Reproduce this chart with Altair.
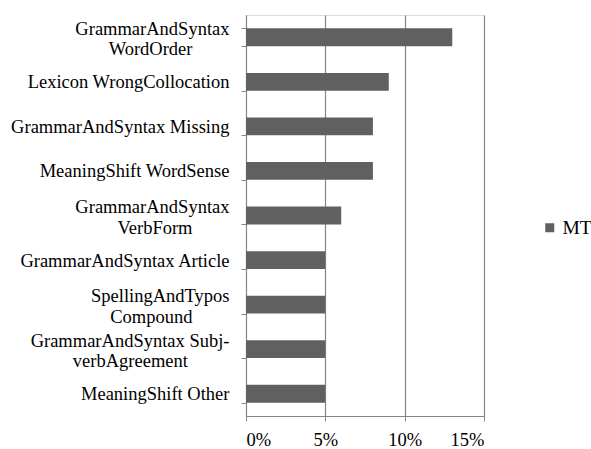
import altair as alt
import pandas as pd

PAD = "\u00a0"
END = "\u200b"
categories = [
    "GrammarAndSyntax\nWordOrder" + PAD * 8 + END,
    "Lexicon WrongCollocation",
    "GrammarAndSyntax Missing",
    "MeaningShift WordSense",
    "GrammarAndSyntax\nVerbForm" + PAD * 8 + END,
    "GrammarAndSyntax Article",
    "SpellingAndTypos\nCompound" + PAD * 8 + END,
    "GrammarAndSyntax Subj-\nverbAgreement" + PAD * 9 + END,
    "MeaningShift Other",
]
values = [0.13, 0.09, 0.08, 0.08, 0.06, 0.05, 0.05, 0.05, 0.05]
series = ["MT"] * len(categories)

df = pd.DataFrame({"category": categories, "value": values, "series": series})

FONT = "Liberation Serif"

chart = alt.Chart(df).mark_bar(color="#606060").encode(
    y=alt.Y(
        "category:N",
        sort=categories,
        scale=alt.Scale(paddingInner=0.6, paddingOuter=0.3),
        axis=alt.Axis(
            title=None,
            tickBand="extent",
            labelExpr="split(datum.label, '\\n')",
            labelFont=FONT,
            labelFontSize=18.5,
            labelColor="#000000",
            labelLineHeight=20.5,
            labelPadding=12,
            labelLimit=300,
            labelOffset={
                "condition": {"test": "indexof(datum.label, '\\n') >= 0", "value": -9},
                "value": 0,
            },
            tickSize=5,
            tickColor="#868686",
            domainColor="#868686",
            grid=False,
        ),
    ),
    x=alt.X(
        "value:Q",
        scale=alt.Scale(domain=[0, 0.15]),
        axis=alt.Axis(
            title=None,
            format=".0%",
            values=[0, 0.05, 0.10, 0.15],
            labelFont=FONT,
            labelFontSize=18.5,
            labelColor="#000000",
            labelPadding=9,
            tickSize=5,
            tickColor="#868686",
            domainColor="#868686",
            grid=True,
            gridColor="#868686",
            gridWidth=1.2,
        ),
    ),
    fill=alt.Fill(
        "series:N",
        scale=alt.Scale(range=["#606060"]),
        legend=alt.Legend(
            title=None,
            orient="none",
            legendX=294,
            legendY=203,
            symbolType="square",
            symbolSize=81,
            symbolStrokeWidth=0,
            labelFont=FONT,
            labelFontSize=19.5,
            labelColor="#000000",
            labelOffset=3,
        ),
    ),
).properties(
    width=238,
    height=401,
    autosize=alt.AutoSizeParams(type="none"),
    padding={"left": 246, "top": 15, "right": 107, "bottom": 33},
).configure_view(stroke=None).configure(background="#ffffff")

chart.save("out.html", embed_options={"renderer": "svg", "actions": False})
